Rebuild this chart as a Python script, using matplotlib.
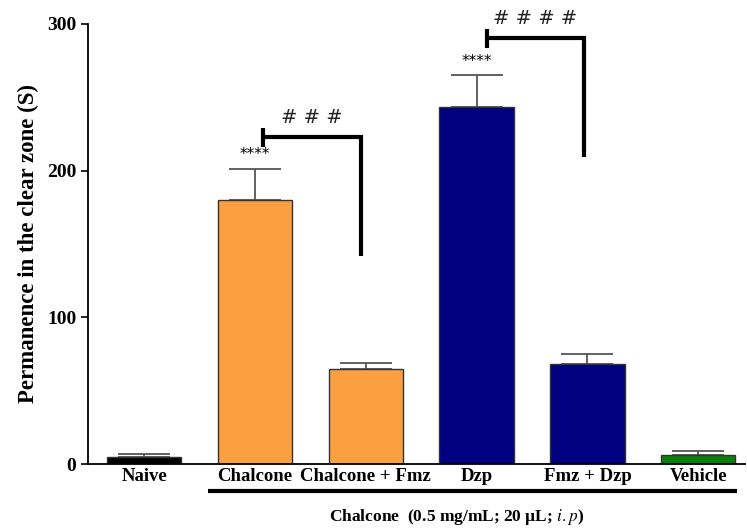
import matplotlib
matplotlib.use("Agg")
import matplotlib.pyplot as plt
import numpy as np

categories = ["Naive", "Chalcone", "Chalcone + Fmz", "Dzp", "Fmz + Dzp", "Vehicle"]
means = [5, 180, 65, 243, 68, 6]
errors = [2, 21, 4, 22, 7, 3]
colors = ["#000000", "#FBA040", "#FBA040", "#000080", "#000080", "#0A800A"]
yticks = [0, 100, 200, 300]

plt.rcParams['font.family'] = ['Liberation Serif', 'DejaVu Serif']
plt.rcParams['mathtext.fontset'] = 'stix'

fig = plt.figure(figsize=(7.47, 5.28), dpi=100)
ax = fig.add_axes([0.118, 0.121, 0.879, 0.834])

x = np.arange(len(categories))
ax.bar(x, means, width=0.67, color=colors, edgecolor="#333333", linewidth=1.0, zorder=2)
ax.errorbar(x, means, yerr=[np.zeros(len(means)), errors], fmt="none",
            ecolor="#555555", elinewidth=1.3, capsize=19, capthick=1.3, zorder=1)

ax.set_xlim(-0.505, 5.42)
ax.set_ylim(0, 300)
ax.set_yticks(yticks)
ax.set_yticklabels([str(t) for t in yticks], fontsize=14, fontweight="bold")
ax.set_xticks(x)
ax.set_xticklabels(categories, fontsize=13.5, fontweight="bold")
ax.tick_params(axis="y", length=5, width=1.2)
ax.tick_params(axis="x", length=4, width=1.2, direction="in", pad=3)
for s in ["top", "right"]:
    ax.spines[s].set_visible(False)
for s in ["left", "bottom"]:
    ax.spines[s].set_linewidth(1.3)
ax.set_ylabel("Permanence in the clear zone (S)", fontsize=16.5, fontweight="bold", labelpad=6)

# significance annotations
ax.text(1, 206, "****", ha="center", va="bottom", fontsize=11, family="DejaVu Sans")
ax.text(3, 269, "****", ha="center", va="bottom", fontsize=11, family="DejaVu Sans")

def bracket(x0, x1, ytop, ybottom, label):
    ax.plot([x0, x0], [ytop - 7, ytop + 6], color="black", lw=3, clip_on=False, solid_capstyle="butt")
    ax.plot([x0, x1, x1], [ytop, ytop, ybottom], color="black", lw=3, clip_on=False,
            solid_capstyle="butt", solid_joinstyle="miter")
    ax.text((x0 + x1) / 2, ytop + 6.5, label, ha="center", va="bottom", fontsize=14,
            family="DejaVu Sans", color="#222222", clip_on=False)

bracket(1.07, 1.96, 223, 142, "# # #")
bracket(3.09, 3.97, 290.5, 209, "# # # #")

# group line
ax.plot([0.58, 5.35], [-0.06, -0.06], transform=ax.get_xaxis_transform(), color="black", lw=3,
        clip_on=False, solid_capstyle="butt")
ax.text(2.82, -0.12, "Chalcone  (0.5 mg/mL; 20 µL; $\\mathit{i.p}$)", transform=ax.get_xaxis_transform(),
        ha="center", va="center", fontsize=12.5, fontweight="bold")

fig.savefig("out.png", dpi=100)
